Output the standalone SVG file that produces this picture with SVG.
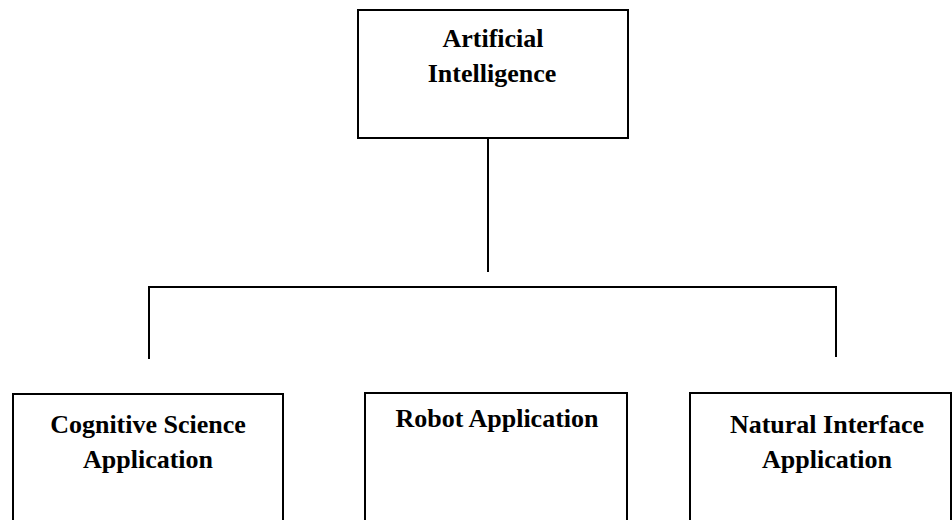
<svg xmlns="http://www.w3.org/2000/svg" width="952" height="520" viewBox="0 0 952 520">
<style>
.box{fill:#fff;stroke:#000;stroke-width:2}
.lbl{font-family:"Liberation Serif","Times New Roman",serif;font-weight:bold;font-size:26px;fill:#000;text-anchor:middle}
.con{fill:none;stroke:#000;stroke-width:2}
</style>
<rect width="952" height="520" fill="#fff"/>
<g id="connectors">
<path class="con" d="M488,138 V272"/>
<path class="con" d="M149,359 V287 H836 V357"/>
</g>
<g id="ai">
<rect class="box" x="358" y="10" width="270" height="128"/>
<text class="lbl" x="493" y="47">Artificial</text>
<text class="lbl" x="492" y="82">Intelligence</text>
</g>
<g id="cognitive">
<rect class="box" x="13" y="394" width="270" height="140"/>
<text class="lbl" x="148" y="433">Cognitive Science</text>
<text class="lbl" x="148" y="468">Application</text>
</g>
<g id="robot">
<rect class="box" x="365" y="393" width="262" height="140"/>
<text class="lbl" x="497" y="427">Robot Application</text>
</g>
<g id="natural">
<rect class="box" x="690" y="393" width="261" height="140"/>
<text class="lbl" x="827" y="433">Natural Interface</text>
<text class="lbl" x="827" y="468">Application</text>
</g>
</svg>
